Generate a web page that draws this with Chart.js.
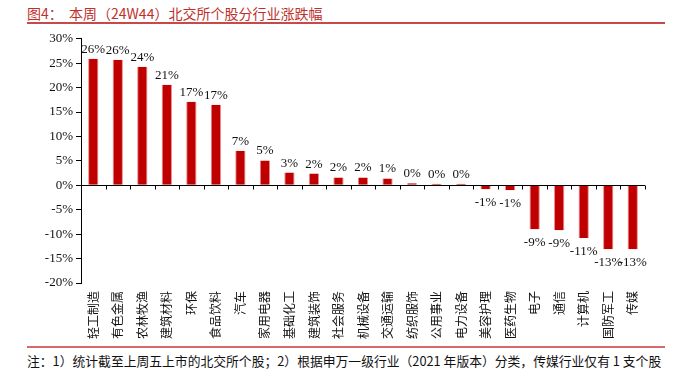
<!DOCTYPE html>
<html><head><meta charset="utf-8">
<script src="https://cdn.jsdelivr.net/npm/chart.js@4"></script>
<style>
html,body{margin:0;padding:0;background:#fff;width:687px;height:376px;overflow:hidden;position:relative;font-family:"Noto Sans CJK SC",sans-serif;}
#title{position:absolute;left:27px;top:3px;font-size:14px;color:#c0302b;font-family:"Noto Sans CJK SC";white-space:nowrap;}
#l1{position:absolute;left:27px;top:22px;width:638px;height:1.5px;background:#c9484a;}
#l2{position:absolute;left:27px;top:346px;width:638px;height:1.5px;background:#d46a6a;}
#note{position:absolute;left:27px;top:351px;font-size:12.8px;color:#111;white-space:nowrap;font-family:"Noto Sans CJK SC";}
#wrap{position:absolute;left:0;top:28px;width:687px;height:318px;}
</style></head><body>
<div id="title">图4：&nbsp;&nbsp;本周（24W44）北交所个股分行业涨跌幅</div>
<div id="l1"></div>
<div id="wrap"><canvas id="c"></canvas></div>
<div id="l2"></div>
<div id="note">注：1）统计截至上周五上市的北交所个股；2）根据申万一级行业（2021 年版本）分类，传媒行业仅有 1 支个股</div>
<script>
const categories = ["轻工制造","有色金属","农林牧渔","建筑材料","环保","食品饮料","汽车","家用电器","基础化工","建筑装饰","社会服务","机械设备","交通运输","纺织服饰","公用事业","电力设备","美容护理","医药生物","电子","通信","计算机","国防军工","传媒"];
const values = [25.9,25.7,24.3,20.6,17.1,16.5,7.1,5.1,2.6,2.4,1.6,1.6,1.4,0.4,0.3,0.3,-0.8,-1.0,-9.0,-9.2,-10.8,-13.1,-13.1];
const yTicks = [30,25,20,15,10,5,0,-5,-10,-15,-20];

const labelPlugin = {
  id:'vals',
  afterDatasetsDraw(chart){
    const ctx = chart.ctx;
    const meta = chart.getDatasetMeta(0);
    ctx.save();
    ctx.font = '13px "Liberation Serif"';
    ctx.fillStyle = '#111';
    ctx.textAlign = 'center';
    meta.data.forEach((el,i)=>{
      const v = values[i];
      const t = Math.round(v) + '%';
      if (v >= 0){ ctx.textBaseline='bottom'; ctx.fillText(t, el.x, el.y - 3); }
      else { ctx.textBaseline='top'; ctx.fillText(t, el.x, el.y + 7); }
    });
    ctx.restore();
  }
};
const zeroPlugin = {
  id:'zero',
  afterDatasetsDraw(chart){
    const ctx = chart.ctx, x = chart.scales.x, y = chart.scales.y;
    const y0 = Math.round(y.getPixelForValue(0)) + 0.5;
    ctx.save();
    ctx.strokeStyle = '#000'; ctx.lineWidth = 1;
    ctx.beginPath();
    ctx.moveTo(chart.chartArea.left, y0); ctx.lineTo(chart.chartArea.right, y0);
    const n = categories.length;
    for (let i=0;i<=n;i++){
      const px = Math.round(x.getPixelForValue(i-0.5)) + 0.5;
      ctx.moveTo(px, y0); ctx.lineTo(px, y0 + 4);
    }
    ctx.stroke();
    ctx.restore();
  }
};

new Chart(document.getElementById('c'), {
  type:'bar',
  data:{labels:categories, datasets:[{data:values, backgroundColor:'#c00000', borderColor:'#e88a8a', borderWidth:{left:1,right:1,top:0,bottom:0}, categoryPercentage:1, barPercentage:0.42}]},
  options:{
    responsive:true, maintainAspectRatio:false, animation:false,
    devicePixelRatio:1,
    layout:{padding:{top:10,right:42,left:0,bottom:0}},
    plugins:{legend:{display:false}, tooltip:{enabled:false}},
    scales:{
      x:{
        grid:{display:false, drawTicks:false},
        border:{display:false},
        ticks:{minRotation:90, maxRotation:90, autoSkip:false, padding:8, color:'#111', font:{family:'"Noto Sans CJK SC"', size:12}},
        afterFit(s){ s.height = 63; }
      },
      y:{
        min:-20, max:30,
        afterBuildTicks(s){ s.ticks = yTicks.map(v=>({value:v})); },
        grid:{drawOnChartArea:false, drawTicks:true, tickLength:5, color:'#000'},
        border:{display:true, color:'#000', width:1},
        ticks:{padding:3, color:'#111', font:{family:'"Liberation Serif"', size:13}, callback:v=>v+'%'},
        afterFit(s){ s.width = 81; }
      }
    }
  },
  plugins:[labelPlugin, zeroPlugin]
});
</script>
</body></html>
